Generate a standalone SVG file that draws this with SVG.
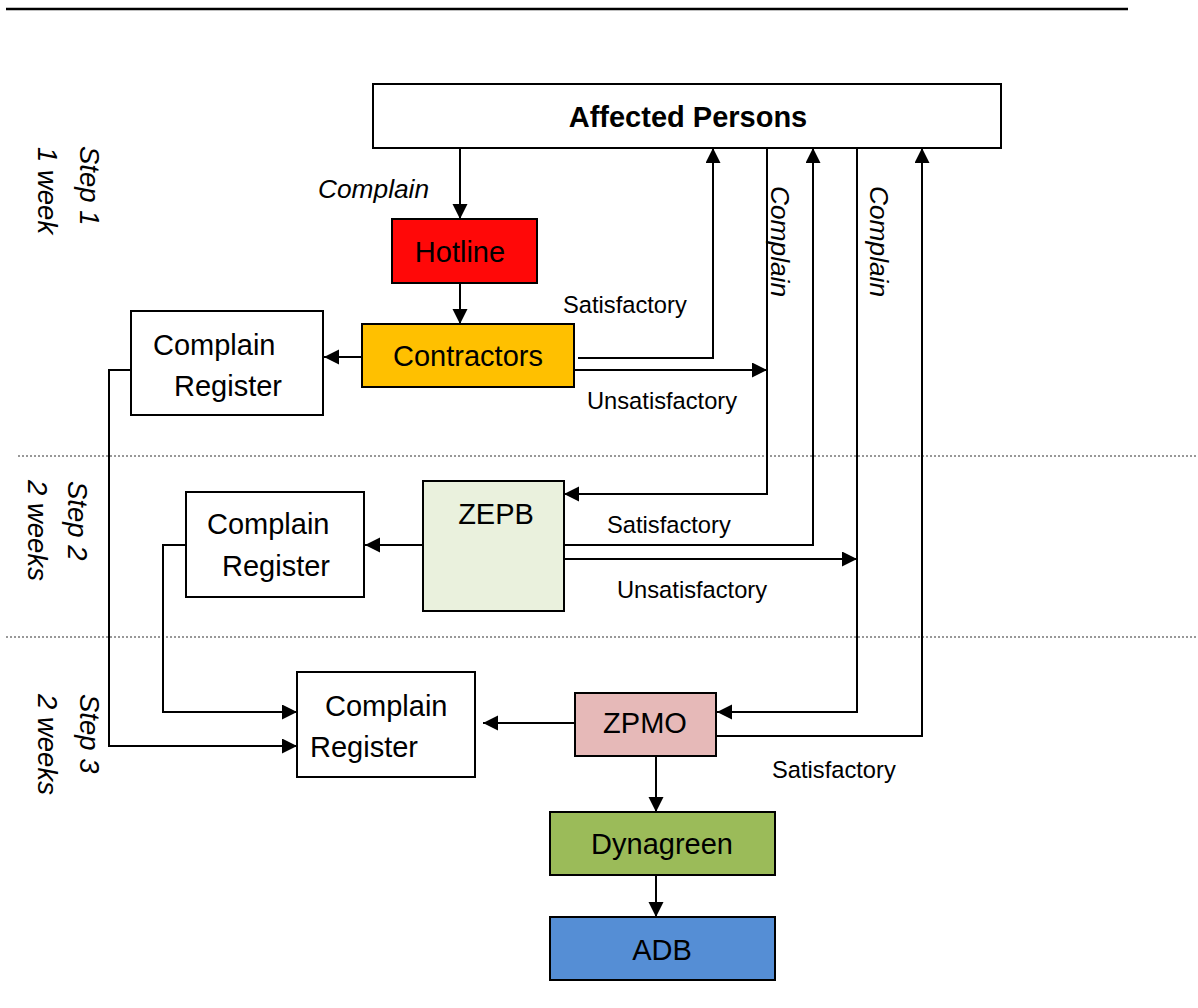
<svg xmlns="http://www.w3.org/2000/svg" width="1198" height="1008" viewBox="0 0 1198 1008">
<style>
.box{stroke:#000;stroke-width:2}
.t{font-family:"Liberation Sans",Arial,sans-serif;font-size:29px;fill:#000}
.lbl{font-family:"Liberation Sans",Arial,sans-serif;font-size:23.7px;fill:#000}
.it{font-family:"Liberation Sans",Arial,sans-serif;font-size:26.3px;font-style:italic;fill:#000}
.step{font-family:"Liberation Sans",Arial,sans-serif;font-size:27.5px;font-style:italic;fill:#000}
.c{fill:none;stroke:#000;stroke-width:2}
.dot{fill:none;stroke:#333;stroke-width:1;stroke-dasharray:2,2}
</style>
<defs>
<marker id="ah" markerUnits="userSpaceOnUse" markerWidth="16" markerHeight="16" refX="15" refY="7.5" orient="auto">
<path d="M0,0 L15,7.5 L0,15 z" fill="#000"/>
</marker>
</defs>
<rect width="1198" height="1008" fill="#fff"/>
<line x1="6" y1="9" x2="1128" y2="9" stroke="#000" stroke-width="2.5"/>
<line class="dot" x1="18" y1="456" x2="1198" y2="456"/>
<line class="dot" x1="6" y1="637" x2="1198" y2="637"/>

<g id="step-labels">
<text class="step" transform="translate(80,146) rotate(90)">Step 1</text>
<text class="step" transform="translate(38,147) rotate(90)">1 week</text>
<text class="step" transform="translate(68,481) rotate(90)">Step 2</text>
<text class="step" transform="translate(28,480) rotate(90)">2 weeks</text>
<text class="step" transform="translate(80,694) rotate(90)">Step 3</text>
<text class="step" transform="translate(38,694) rotate(90)">2 weeks</text>
</g>

<g id="connectors">
<line class="c" x1="460" y1="148" x2="460" y2="219" marker-end="url(#ah)"/>
<line class="c" x1="460" y1="283" x2="460" y2="324" marker-end="url(#ah)"/>
<line class="c" x1="362" y1="357" x2="324" y2="357" marker-end="url(#ah)"/>
<polyline class="c" points="578,358 713,358 713,148" marker-end="url(#ah)"/>
<line class="c" x1="574" y1="370" x2="767" y2="370" marker-end="url(#ah)"/>
<polyline class="c" points="767,148 767,494 564,494" marker-end="url(#ah)"/>
<polyline class="c" points="564,545 813,545 813,148" marker-end="url(#ah)"/>
<line class="c" x1="564" y1="559" x2="857" y2="559" marker-end="url(#ah)"/>
<polyline class="c" points="857,148 857,712 717,712" marker-end="url(#ah)"/>
<polyline class="c" points="717,736 922,736 922,148" marker-end="url(#ah)"/>
<line class="c" x1="423" y1="545" x2="365" y2="545" marker-end="url(#ah)"/>
<polyline class="c" points="131,370 109,370 109,746 297,746" marker-end="url(#ah)"/>
<polyline class="c" points="186,545 163,545 163,712 297,712" marker-end="url(#ah)"/>
<line class="c" x1="578" y1="723" x2="483" y2="723" marker-end="url(#ah)"/>
<line class="c" x1="656" y1="756" x2="656" y2="812" marker-end="url(#ah)"/>
<line class="c" x1="656" y1="875" x2="656" y2="917" marker-end="url(#ah)"/>
<text class="it" x="318" y="198">Complain</text>
<text class="it" transform="translate(771,186) rotate(90)">Complain</text>
<text class="it" transform="translate(870,186) rotate(90)">Complain</text>
<text class="lbl" x="563" y="313">Satisfactory</text>
<text class="lbl" x="587" y="409">Unsatisfactory</text>
<text class="lbl" x="607" y="533">Satisfactory</text>
<text class="lbl" x="617" y="598">Unsatisfactory</text>
<text class="lbl" x="772" y="778">Satisfactory</text>
</g>

<g id="affected-persons">
<rect class="box" x="373" y="84" width="628" height="64" fill="#fff"/>
<text class="t" x="688" y="127" text-anchor="middle" font-weight="bold">Affected Persons</text>
</g>
<g id="hotline">
<rect class="box" x="392" y="219" width="145" height="64" fill="#FF0808"/>
<text class="t" x="460" y="262" text-anchor="middle">Hotline</text>
</g>
<g id="contractors">
<rect class="box" x="362" y="324" width="212" height="63" fill="#FFC000"/>
<text class="t" x="468" y="366" text-anchor="middle">Contractors</text>
</g>
<g id="register1">
<rect class="box" x="131" y="311" width="192" height="104" fill="#fff"/>
<text class="t" x="153" y="355">Complain</text>
<text class="t" x="174" y="396">Register</text>
</g>
<g id="zepb">
<rect class="box" x="423" y="481" width="141" height="130" fill="#EAF1DD"/>
<text class="t" x="496" y="524" text-anchor="middle">ZEPB</text>
</g>
<g id="register2">
<rect class="box" x="186" y="492" width="178" height="105" fill="#fff"/>
<text class="t" x="207" y="534">Complain</text>
<text class="t" x="222" y="576">Register</text>
</g>
<g id="register3">
<rect class="box" x="297" y="672" width="178" height="105" fill="#fff"/>
<text class="t" x="325" y="716">Complain</text>
<text class="t" x="310" y="757">Register</text>
</g>
<g id="zpmo">
<rect class="box" x="575" y="693" width="141" height="63" fill="#E6B9B8"/>
<text class="t" x="645" y="733" text-anchor="middle">ZPMO</text>
</g>
<g id="dynagreen">
<rect class="box" x="550" y="812" width="225" height="63" fill="#9BBB59"/>
<text class="t" x="662" y="854" text-anchor="middle">Dynagreen</text>
</g>
<g id="adb">
<rect class="box" x="550" y="917" width="225" height="63" fill="#558ED5"/>
<text class="t" x="662" y="960" text-anchor="middle">ADB</text>
</g>
</svg>
